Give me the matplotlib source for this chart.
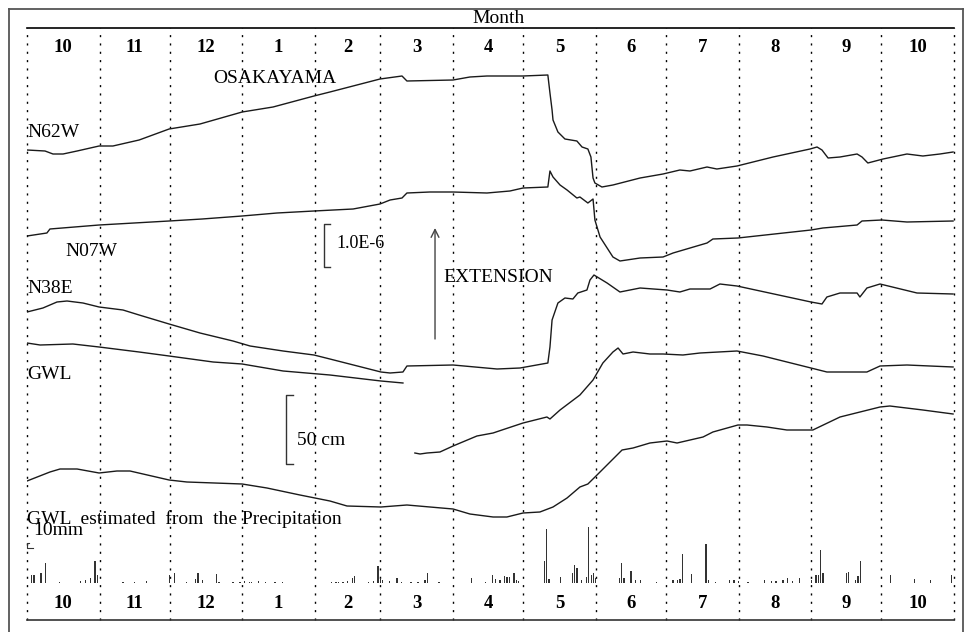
import numpy as np
import matplotlib
matplotlib.use('Agg')
import matplotlib.pyplot as plt
from matplotlib.lines import Line2D

plt.rcParams['font.family'] = ['Liberation Serif', 'DejaVu Serif']

# months shown along the record (Oct to Oct), x axis is days from Oct 1
month_labels = ['10', '11', '12', '1', '2', '3', '4', '5', '6', '7', '8', '9', '10']
month_days = [31, 30, 31, 31, 28, 31, 30, 31, 30, 31, 31, 30, 31]

# strain / water level traces (chart units)
n62w_day = [0, 7.7, 11.1, 15.4, 21.4, 30.8, 36.7, 47.9, 60.7, 73.9, 91.9, 105.1, 122.6, 129.4,
            150.8, 160.2, 162.3, 182, 189.2, 196.5, 211.9, 222.5, 223.4, 224.3, 224.7, 226.8,
            229.8, 234.9, 237.1, 239.6, 240.9, 241.8, 242.6, 245.6, 250.3, 261.9, 271.7, 278.9,
            283.2, 290.5, 294.7, 303.3, 318.7, 334.5, 337.5, 339.6, 342.2, 347.3, 354.6, 356.7,
            359.2, 365.7, 375.9, 382.7, 390, 395.6]
n62w_val = [470, 469, 466, 466, 469, 474, 474, 480, 491, 496, 508, 513, 524, 528,
            541, 544, 539, 540, 543, 544, 544, 545, 527, 510, 500, 488,
            481, 479, 473, 471, 463, 442, 437, 433, 435, 442, 446, 450,
            449, 453, 451, 454, 463, 471, 473, 470, 462, 463, 466, 463,
            457, 461, 466, 464, 466, 468]

n07w_day = [0, 8.5, 9.8, 30.8, 60.7, 74.8, 91.9, 106.8, 122.6, 139.3, 150.8, 155.1, 160.2,
            162.3, 172.1, 182, 196.5, 206.3, 211.9, 222.5, 223.4, 224.7, 227.7, 230.7, 234.9,
            236.2, 239.6, 241.8, 242.6, 244.8, 250.3, 253.3, 261.9, 271.7, 276, 290.5, 293,
            303.7, 334.9, 340, 354.6, 356.7, 365.2, 375.9, 395.6]
n07w_val = [384, 387, 391, 395, 399, 401, 404, 407, 409, 411, 416, 420, 422,
            427, 428, 428, 427, 429, 432, 433, 449, 443, 435, 430, 422,
            423, 417, 421, 400, 383, 363, 359, 362, 363, 367, 377, 381,
            382, 390, 392, 395, 399, 400, 398, 399]

n38e_day = [0, 6.8, 12.8, 17.1, 23.9, 30.8, 41, 47.9, 60.7, 73.9, 88, 95.3, 109.4, 122.6,
            129.4, 151.2, 155.1, 160.6, 162.3, 182, 200.8, 210.6, 222.5, 223.4, 224.3, 226.8,
            229.8, 233.2, 235.3, 239.2, 240.5, 242.2, 247.8, 253.3, 261.9, 273.4, 278.9, 283.2,
            291.8, 296, 303.3, 334.9, 339.6, 341.7, 347.3, 354.6, 355.8, 358.8, 364.4, 380.2, 395.6]
n38e_val = [308, 312, 318, 319, 317, 313, 310, 305, 296, 287, 279, 274, 269, 265,
            261, 248, 247, 248, 254, 255, 251, 252, 257, 273, 300, 317,
            322, 321, 327, 330, 340, 345, 337, 328, 332, 330, 328, 331,
            331, 336, 334, 318, 316, 323, 327, 327, 323, 332, 336, 327, 326]

gwl1_day = [0, 5.6, 19.6, 30.8, 47.9, 60.7, 79.5, 91.9, 109.4, 129.4, 151.2, 160.6]
gwl1_val = [277, 275, 276, 273, 268, 264, 258, 256, 249, 245, 239, 237]

gwl2_day = [165.7, 167.9, 170.9, 176.4, 182, 192.2, 199.1, 202.9, 211.9, 222.1, 223.4, 227.7,
            236.2, 241.8, 246, 250.3, 252.5, 254.6, 258.9, 266.1, 271.7, 280.2, 287.5, 303.3,
            314.4, 334.9, 341.7, 358.8, 364.4, 375.9, 395.6]
gwl2_val = [167, 166, 167, 168, 174, 184, 187, 190, 197, 203, 201, 210,
            225, 240, 257, 268, 272, 266, 268, 266, 266, 265, 267, 269,
            264, 252, 248, 248, 254, 255, 253]

est_day = [0, 9.8, 14.1, 21.4, 30.8, 38.4, 44, 60.7, 68.3, 91.9, 102.5, 116.6, 129.4, 136.7,
           151.2, 162.3, 182, 189.2, 199.1, 205, 211.9, 219.1, 224.7, 230.7, 236.2, 239.6,
           243.5, 254.2, 258.9, 266.1, 273.4, 277.7, 288.8, 293, 303.7, 307.6, 316.1, 324.6,
           335.7, 347.3, 364.4, 368.6, 382.7, 395.6]
est_val = [139, 148, 151, 151, 147, 149, 149, 140, 138, 136, 132, 125, 119, 114,
           113, 115, 111, 106, 103, 103, 107, 108, 113, 122, 133, 136,
           145, 170, 172, 177, 179, 177, 183, 188, 195, 195, 193, 190,
           190, 203, 213, 214, 210, 206]

# daily precipitation (mm)
rain_day = [2, 3, 6, 8, 14, 23, 25, 27, 29, 30, 41, 46, 51, 61, 63, 68, 72, 73, 75, 81, 82, 88,
            91, 93, 95, 96, 99, 102, 106, 109, 130, 132, 133, 135, 137, 139, 140, 146, 148, 150,
            151, 152, 155, 158, 160, 164, 167, 170, 171, 176, 190, 196, 199, 200, 202, 204, 205,
            206, 208, 209, 210, 221, 222, 223, 228, 233, 234, 235, 237, 239, 240, 241, 242, 243,
            253, 254, 255, 258, 260, 262, 269, 276, 278, 279, 280, 284, 290, 291, 294, 300, 302,
            304, 308, 315, 318, 320, 323, 325, 327, 330, 335, 337, 338, 339, 340, 350, 351, 354,
            355, 356, 369, 379, 386, 395]
rain_mm = [16, 16, 20, 40, 2, 4, 6, 10, 44, 16, 2, 2, 4, 16, 20, 2, 8, 20, 6, 18, 2, 2,
           2, 4, 2, 2, 4, 2, 2, 2, 2, 2, 2, 2, 4, 10, 14, 2, 4, 34,
           10, 6, 4, 10, 2, 2, 2, 6, 20, 2, 10, 2, 16, 8, 6, 14, 12,
           12, 20, 6, 4, 44, 108, 8, 12, 20, 36, 30, 6, 12, 112, 16, 20, 10,
           10, 40, 10, 24, 6, 6, 2, 6, 6, 8, 58, 18, 78, 6, 2, 6, 6,
           4, 2, 6, 4, 4, 6, 10, 4, 10, 6, 16, 16, 66, 20, 20, 22, 6,
           14, 44, 16, 8, 6, 16]

W, H = 976, 632
fig = plt.figure(figsize=(W / 100, H / 100), dpi=100)
fig.patch.set_facecolor('white')

pos = [27 / W, 12 / H, 927 / W, 592 / H]
ax = fig.add_axes(pos)
ax.set_xlim(0, 396)
ax.set_ylim(0, 592)
ax.axis('off')

# precipitation on its own scale (2 mm per pixel)
ax2 = fig.add_axes(pos)
ax2.set_xlim(0, 396)
ax2.set_ylim(-74, 1110)
ax2.axis('off')
ax2.bar(rain_day, rain_mm, width=0.55, color='#333333', align='center')
# 10 mm scale mark
ax2.plot([0.9, 0, 0, 2.6], [80, 80, 70, 70], color='#333333', lw=0.8, clip_on=False)

# outer frame
line_kw = dict(transform=fig.transFigure, color='#555555', lw=1.3)
fig.add_artist(Line2D([9 / W, 9 / W], [0, 1 - 9 / H], **line_kw))
fig.add_artist(Line2D([963 / W, 963 / W], [0, 1 - 9 / H], **line_kw))
fig.add_artist(Line2D([9 / W, 963 / W], [1 - 9 / H, 1 - 9 / H], **line_kw))

# month grid
bounds = np.concatenate([[0], np.cumsum(month_days)])
for b in bounds:
    ax.plot([b, b], [0, 592], color='black', lw=1.0, ls=(0, (1.5, 4.5)), clip_on=False)
ax.plot([0, 396], [592, 592], color='black', lw=1.2, clip_on=False)
ax.plot([0, 396], [0, 0], color='#333333', lw=1.2, clip_on=False)

for i, lab in enumerate(month_labels):
    c = (bounds[i] + bounds[i + 1]) / 2
    ax.text(c, 568, lab, ha='center', va='baseline', fontsize=13.5, fontweight='bold')
    ax.text(c, 12, lab, ha='center', va='baseline', fontsize=13.5, fontweight='bold')

fig.text(499 / W, 1 - 23 / H, 'Month', ha='center', va='baseline', fontsize=14)

# traces
trace_kw = dict(color='#1a1a1a', lw=1.0)
ax.plot(n62w_day, n62w_val, **trace_kw)
ax.plot(n07w_day, n07w_val, **trace_kw)
ax.plot(n38e_day, n38e_val, **trace_kw)
ax.plot(gwl1_day, gwl1_val, **trace_kw)
ax.plot(gwl2_day, gwl2_val, **trace_kw)
ax.plot(est_day, est_val, **trace_kw)

# labels
txt = dict(fontsize=14, va='baseline', ha='left')
ax.text(79.5, 537, 'OSAKAYAMA', **txt)
ax.text(0, 483, 'N62W', **txt)
ax.text(16.2, 364, 'N07W', **txt)
ax.text(0, 327, 'N38E', **txt)
ax.text(0, 241, 'GWL', **txt)
ax.text(132, 372, '1.0E-6', fontsize=13, va='baseline', ha='left')
ax.text(177.7, 338, 'EXTENSION', **txt)
ax.text(115.3, 175, '50 cm', **txt)
ax.text(0, 96, 'GWL  estimated  from  the Precipitation', **txt)
ax.text(2.6, 85, '10mm', **txt)

# scale brackets
ax.plot([129.4, 126.9, 126.9, 129.4], [396, 396, 353, 353], color='#333333', lw=1.0)
ax.plot([113.6, 110.6, 110.6, 113.6], [225, 225, 156, 156], color='#333333', lw=1.0)

# extension arrow
ax.annotate('', xy=(174.3, 392), xytext=(174.3, 281),
            arrowprops=dict(arrowstyle='->', color='#444444', lw=1.0,
                            shrinkA=0, shrinkB=0, mutation_scale=14))

fig.savefig('out.png', dpi=100, facecolor='white')
